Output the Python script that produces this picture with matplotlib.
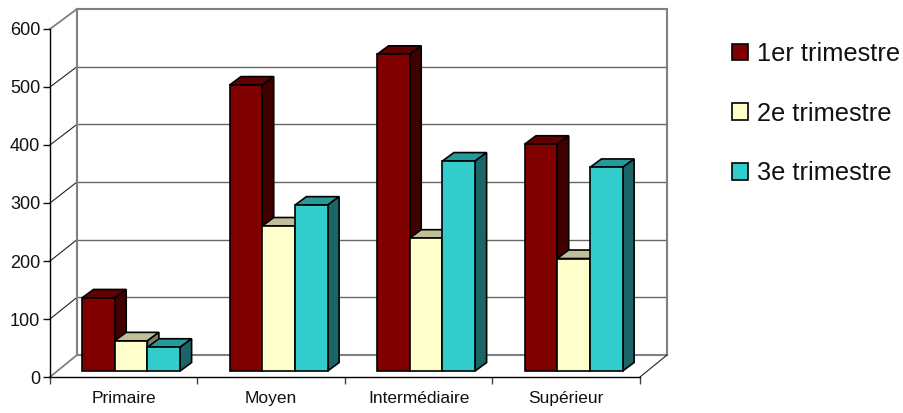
import numpy as np
import matplotlib
matplotlib.use("Agg")
import matplotlib.pyplot as plt
from matplotlib.patches import Patch, Polygon

plt.rcParams["font.family"] = ["Liberation Sans", "DejaVu Sans"]

categories = ["Primaire", "Moyen", "Intermédiaire", "Supérieur"]
series_names = ["1er trimestre", "2e trimestre", "3e trimestre"]
t1 = [126, 493, 546, 391]
t2 = [52, 250, 229, 194]
t3 = [41, 286, 362, 351]
y_ticks = [0, 100, 200, 300, 400, 500, 600]

# front, top, side
COLORS = [("#800000", "#600000", "#400000"),
          ("#FFFFCC", "#BFBF99", "#808066"),
          ("#33CCCC", "#269999", "#1A6666")]

W, H = 904, 413
fig = plt.figure(figsize=(W / 100, H / 100), dpi=100)
ax = fig.add_axes([50 / W, 1 - 377 / H, 590 / W, 348 / H])
ax.set_xlim(0, len(categories))
ax.set_ylim(0, 600)

# profondeur du "cadre" 3D et des barres, en unités de données
wall_dx, wall_dy = 27 / 147.5, 22 / 0.58
wall_scale = 346 / 348  # le mur du fond est un peu moins haut
bar_dx, bar_dy = 11.5 / 147.5, 8.5 / 0.58
base = 10.3
w = 0.2217
left = 0.217

# murs
n = len(categories)
for v in y_ticks:
    edge = v in (0, 600)
    back_y = wall_dy + v * wall_scale
    ax.plot([0, wall_dx], [v, back_y], color="#808080" if edge else "#222222",
            lw=1.3 if edge else 0.8, clip_on=False, zorder=1)
    ax.plot([wall_dx, n + wall_dx], [back_y] * 2, color="#808080" if edge else "#666666",
            lw=1.5 if edge else 1.0, clip_on=False, zorder=1)
top_y = wall_dy + 600 * wall_scale
ax.plot([wall_dx, wall_dx], [wall_dy, top_y], color="#808080", lw=1.5, clip_on=False, zorder=1)
ax.plot([n + wall_dx, n + wall_dx], [wall_dy, top_y], color="#808080", lw=1.5, clip_on=False, zorder=1)
ax.plot([n, n + wall_dx], [0, wall_dy], color="#222222", lw=0.8, clip_on=False, zorder=1)

# barres
x = np.arange(n)
z = 3
for g in x:
    for i, vals in enumerate([t1, t2, t3]):
        x0 = g + left + i * w
        top = base + vals[g]
        front, top_c, side = COLORS[i]
        ax.add_patch(Polygon([(x0, top), (x0 + bar_dx, top + bar_dy), (x0 + w + bar_dx, top + bar_dy), (x0 + w, top)],
                             fc=top_c, ec="black", lw=1.2, clip_on=False, zorder=z))
        ax.add_patch(Polygon([(x0 + w, base), (x0 + w + bar_dx, base + bar_dy), (x0 + w + bar_dx, top + bar_dy), (x0 + w, top)],
                             fc=side, ec="black", lw=1.2, clip_on=False, zorder=z))
        ax.bar(x0, vals[g], w, bottom=base, align="edge", color=front, edgecolor="black", lw=1.2,
               clip_on=False, zorder=z + 1)
        z += 2

for s in ["top", "right"]:
    ax.spines[s].set_visible(False)
ax.spines["left"].set_linewidth(1)
ax.spines["bottom"].set_linewidth(1)
ax.set_yticks(y_ticks)
ax.set_xticks(x + 0.5, categories)
ax.set_xticks(np.arange(n + 1), minor=True)
ax.tick_params(axis="x", which="major", length=0, labelsize=12.5, pad=10, colors="#111111")
ax.tick_params(axis="x", which="minor", length=5, width=1, color="#444444")
ax.tick_params(axis="y", length=5, width=1, labelsize=13, pad=2, colors="#111111")

handles = [Patch(fc=c[0], ec="black", lw=1.2) for c in COLORS]
fig.legend(handles, series_names, loc="upper left", bbox_to_anchor=(732 / W, 1 - 42 / H), frameon=False,
           fontsize=18.3, labelspacing=1.40, handlelength=0.63, handleheight=0.63, handletextpad=0.35,
           borderpad=0, borderaxespad=0, labelcolor="#111111")

fig.savefig("out.png", dpi=100)
